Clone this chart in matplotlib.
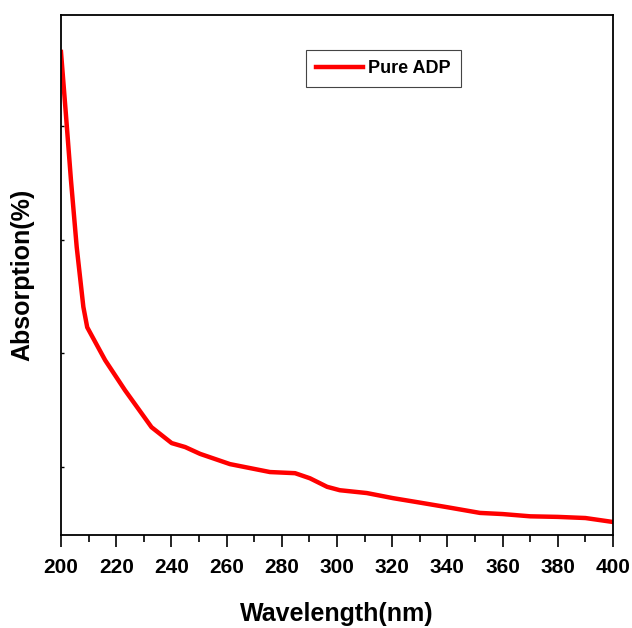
import matplotlib
matplotlib.use("Agg")
import matplotlib.pyplot as plt
from matplotlib.ticker import MultipleLocator

plt.rcParams['font.family'] = ['Liberation Sans', 'DejaVu Sans']
plt.rcParams['font.weight'] = 'bold'

# Spectre (unites arbitraires)
wavelength = [200, 201.8, 203.6, 205.7, 208.1, 209.5, 216, 223.2, 232.8, 240.1,
              245, 250.4, 261.2, 275.7, 284.8, 290.2, 296.4, 301, 310.8, 320.3,
              329, 340, 351.8, 360, 370, 380, 390, 400]
absorption = [93.1, 82.0, 70.6, 58.7, 48.2, 44.6, 38.8, 33.5, 27.0, 24.2,
              23.5, 22.3, 20.5, 19.1, 18.9, 18.0, 16.5, 15.9, 15.4, 14.5,
              13.8, 12.9, 11.9, 11.7, 11.3, 11.2, 11.0, 10.3]

fig = plt.figure(figsize=(6.32, 6.28), dpi=100)
ax = fig.add_axes([0.0965, 0.148, 0.8735, 0.828])

ax.plot(wavelength, absorption, color="red", lw=3.2, label="Pure ADP")

ax.set_xlim(200, 400)
ax.set_ylim(8, 99.6)
ax.xaxis.set_major_locator(MultipleLocator(20))
ax.xaxis.set_minor_locator(MultipleLocator(10))
ax.set_yticks([20, 40, 60, 80])
ax.set_yticklabels([])

ax.tick_params(axis="x", which="major", direction="out", length=8.5, width=1.2,
               labelsize=15, pad=8)
ax.tick_params(axis="x", which="minor", direction="out", length=5, width=1.2)
ax.tick_params(axis="y", direction="in", length=2.5, width=1)
for lab in ax.get_xticklabels():
    lab.set_fontweight("bold")
for s in ax.spines.values():
    s.set_linewidth(1.3)

ax.set_xlabel("Wavelength(nm)", fontsize=18, fontweight="bold", labelpad=18)
ax.set_ylabel("Absorption(%)", fontsize=18, fontweight="bold", labelpad=16)

leg = ax.legend(loc="upper left", bbox_to_anchor=(0.444, 0.933), borderaxespad=0,
                fancybox=False, edgecolor="#444444", framealpha=1,
                handlelength=2.6, handletextpad=0.3,
                prop={"size": 13, "weight": "bold"}, borderpad=0.55)
leg.get_frame().set_linewidth(0.8)

fig.savefig("out.png", dpi=100)
